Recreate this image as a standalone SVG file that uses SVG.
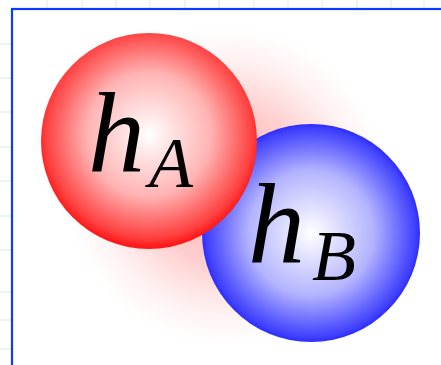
<svg xmlns="http://www.w3.org/2000/svg" width="441" height="365" viewBox="0 0 441 365">
  <style>
    .grid line { stroke: #e6f5e6; stroke-width: 1.6; }
    .lbl { font-family: "Liberation Serif", "Times New Roman", serif; font-style: italic; fill: #000; }
    .main { font-size: 114px; }
    .sub { font-size: 72px; }
  </style>
  <defs>
    <radialGradient id="redBall" cx="0.5" cy="0.47" r="0.52">
      <stop offset="0" stop-color="#ffffff"/>
      <stop offset="0.55" stop-color="#ffb3b3"/>
      <stop offset="0.92" stop-color="#ff4040"/>
      <stop offset="1" stop-color="#ff1a1a"/>
    </radialGradient>
    <radialGradient id="blueBall" cx="0.5" cy="0.5" r="0.52">
      <stop offset="0" stop-color="#ffffff"/>
      <stop offset="0.55" stop-color="#b3b3ff"/>
      <stop offset="0.92" stop-color="#4040ff"/>
      <stop offset="1" stop-color="#1a1aff"/>
    </radialGradient>
    <radialGradient id="glow" gradientUnits="userSpaceOnUse" cx="226" cy="186" r="160">
      <stop offset="0" stop-color="#ff7070" stop-opacity="0.6"/>
      <stop offset="0.5" stop-color="#ff8080" stop-opacity="0.38"/>
      <stop offset="0.8" stop-color="#ff9090" stop-opacity="0.12"/>
      <stop offset="1" stop-color="#ffa0a0" stop-opacity="0"/>
    </radialGradient>
  </defs>
  <rect width="441" height="365" fill="#ffffff"/>
  <g class="grid">
    <line x1="47" y1="0" x2="47" y2="365"/>
    <line x1="82" y1="0" x2="82" y2="365"/>
    <line x1="116" y1="0" x2="116" y2="365"/>
    <line x1="150" y1="0" x2="150" y2="365"/>
    <line x1="185" y1="0" x2="185" y2="365"/>
    <line x1="219" y1="0" x2="219" y2="365"/>
    <line x1="254" y1="0" x2="254" y2="365"/>
    <line x1="288" y1="0" x2="288" y2="365"/>
    <line x1="322" y1="0" x2="322" y2="365"/>
    <line x1="357" y1="0" x2="357" y2="365"/>
    <line x1="391" y1="0" x2="391" y2="365"/>
    <line x1="424" y1="0" x2="424" y2="365"/>
    <line x1="0" y1="44" x2="441" y2="44"/>
    <line x1="0" y1="78" x2="441" y2="78"/>
    <line x1="0" y1="112" x2="441" y2="112"/>
    <line x1="0" y1="147" x2="441" y2="147"/>
    <line x1="0" y1="181" x2="441" y2="181"/>
    <line x1="0" y1="216" x2="441" y2="216"/>
    <line x1="0" y1="250" x2="441" y2="250"/>
    <line x1="0" y1="292" x2="441" y2="292"/>
    <line x1="0" y1="320" x2="441" y2="320"/>
    <line x1="0" y1="349" x2="441" y2="349"/>
  </g>
  <rect x="12" y="9" width="460" height="400" fill="#ffffff" stroke="#0a3cff" stroke-width="2.2"/>
  <circle cx="226" cy="186" r="160" fill="url(#glow)"/>
  <g id="nodeB">
    <circle cx="311" cy="233" r="109" fill="url(#blueBall)"/>
    <text class="lbl" x="248" y="263"><tspan class="main">h</tspan><tspan class="sub" x="312" y="280">B</tspan></text>
  </g>
  <g id="nodeA">
    <circle cx="149" cy="141" r="108" fill="url(#redBall)"/>
    <text class="lbl" x="88" y="172"><tspan class="main">h</tspan><tspan class="sub" x="149" y="187">A</tspan></text>
  </g>
  <g id="connectors"/>
</svg>
